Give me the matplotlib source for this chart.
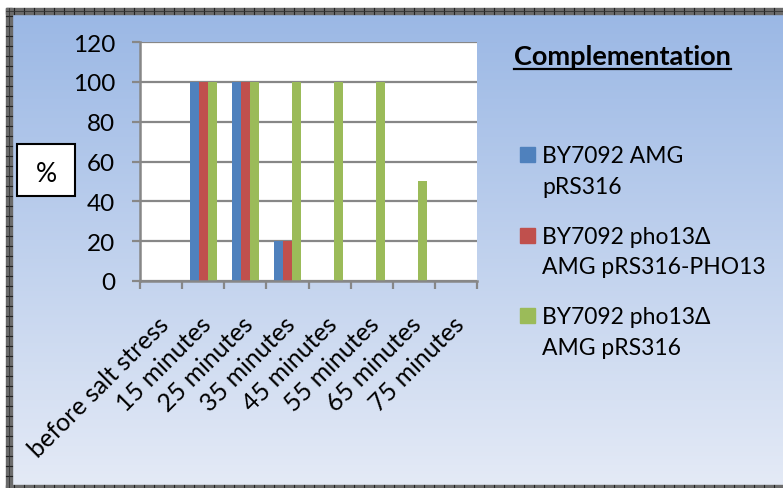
import numpy as np
import matplotlib
matplotlib.use("Agg")
import matplotlib.pyplot as plt
from matplotlib.patches import Rectangle

plt.rcParams['font.family'] = ['Lato', 'DejaVu Sans']

# categories and series
categories = ['before salt stress', '15 minutes', '25 minutes', '35 minutes',
              '45 minutes', '55 minutes', '65 minutes', '75 minutes']
wt_amg = [0, 100, 100, 20, 0, 0, 0, 0]
pho13_rescue = [0, 100, 100, 20, 0, 0, 0, 0]
pho13_empty = [0, 100, 100, 100, 100, 100, 50, 0]
series_names = ['BY7092 AMG\npRS316',
                'BY7092 pho13\u0394\nAMG pRS316-PHO13',
                'BY7092 pho13\u0394\nAMG pRS316']
colors = ['#4F81BD', '#C0504D', '#9BBB59']
yticks = [0, 20, 40, 60, 80, 100, 120]

W, H = 783, 489
fig = plt.figure(figsize=(W / 100, H / 100), dpi=100)

# gradient background inside the frame
bg = fig.add_axes([0, 0, 1, 1])
bg.set_xlim(0, W)
bg.set_ylim(H, 0)
bg.axis('off')
top = np.array([155, 184, 229]) / 255
bot = np.array([228, 234, 246]) / 255
t = np.linspace(0, 1, 256)[:, None]
grad = (top[None, :] * (1 - t) + bot[None, :] * t)[:, None, :]
bg.imshow(grad, extent=[12, W, 486, 15], aspect='auto', zorder=0)

# frame
bg.add_patch(Rectangle((6, 9), W, 6, color='#6b6b6b', zorder=1))
bg.add_patch(Rectangle((6, 9), 6, 480, color='#6b6b6b', zorder=1))
bg.add_patch(Rectangle((6, 486), W, 4, color='#6b6b6b', zorder=1))
for x in range(14, W, 10):
    bg.plot([x, x], [9, 15], color='#222222', lw=0.8, zorder=2)
    bg.plot([x, x], [486, 489], color='#222222', lw=0.8, zorder=2)
for y in range(17, 486, 10):
    bg.plot([6, 12], [y, y], color='#222222', lw=0.8, zorder=2)
bg.plot([6, W], [12, 12], color='#333333', lw=0.6, zorder=2)
bg.plot([9, 9], [9, 489], color='#333333', lw=0.6, zorder=2)

# "%" box
bg.add_patch(Rectangle((17, 145), 58, 52, facecolor='white', edgecolor='black', lw=1.5, zorder=3))
bg.text(46, 174, '%', ha='center', va='center', fontsize=19, zorder=4)

# main chart
ax = fig.add_axes([140 / W, 1 - 282 / H, 337 / W, 239 / H])
ax.set_facecolor('white')
x = np.arange(len(categories))
bw = 0.215
for i, vals in enumerate([wt_amg, pho13_rescue, pho13_empty]):
    ax.bar(x + (i - 1) * bw, vals, width=bw, color=colors[i], zorder=3)

ax.set_xlim(-0.5, len(categories) - 0.5)
ax.set_ylim(0, 120)
ax.set_yticks(yticks)
ax.set_yticklabels([str(v) for v in yticks], fontsize=17.5)
ax.grid(axis='y', color='#878787', lw=1.6, zorder=1)
for s in ['top', 'right']:
    ax.spines[s].set_visible(False)
for s in ['left', 'bottom']:
    ax.spines[s].set_color('#878787')
    ax.spines[s].set_linewidth(1.8)
    ax.spines[s].set_zorder(4)
ax.tick_params(axis='y', length=5.8, width=1.6, color='#878787', pad=12)
ax.set_xticks(np.arange(len(categories) + 1) - 0.5)
ax.set_xticklabels([])
ax.tick_params(axis='x', length=5.8, width=1.6, color='#878787')
for xi, lab in zip(x, categories):
    ax.annotate(lab, (xi, 0), xycoords='data', xytext=(3, -28), textcoords='offset points',
                rotation=45, rotation_mode='anchor', ha='right', va='center',
                fontsize=18, annotation_clip=False)

# legend title, underlined
title = fig.text(514 / W, 1 - 57 / H, 'Complementation', fontsize=19.5, fontweight='bold',
                 ha='left', va='center')
fig.canvas.draw()
bb = title.get_window_extent().transformed(fig.transFigure.inverted())
fig.add_artist(plt.Line2D([bb.x0, bb.x1], [1 - 69.5 / H, 1 - 69.5 / H], color='black', lw=1.6))

# legend entries
for i, (name, c) in enumerate(zip(series_names, colors)):
    y0 = 148 + i * 80.5
    bg.add_patch(Rectangle((520, y0), 15, 15, color=c, zorder=3))
    for j, ln in enumerate(name.split('\n')):
        bg.text(542, y0 + 15 + j * 31, ln, ha='left', va='baseline', fontsize=16.5, zorder=3)

fig.savefig('out.png', dpi=100)
